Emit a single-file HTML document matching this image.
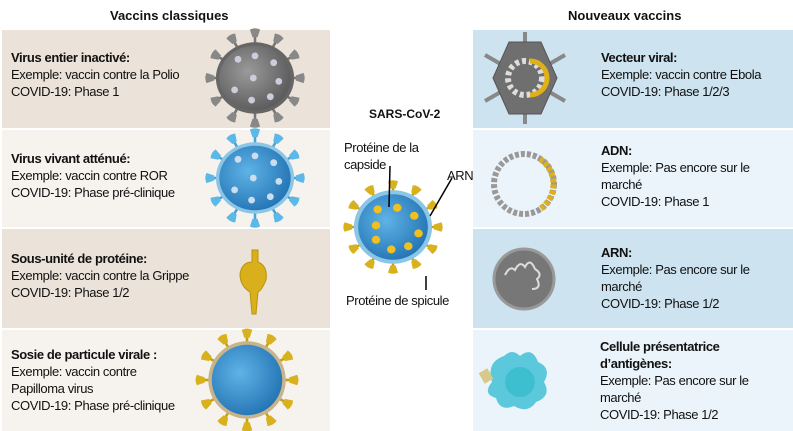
<!DOCTYPE html>
<html><head><meta charset="utf-8"><style>
html,body{margin:0;padding:0;background:#fff;width:793px;height:431px;overflow:hidden;font-family:"Liberation Sans",sans-serif;}
.p{position:absolute;}
.t{position:absolute;font-size:13px;line-height:17px;color:#111;letter-spacing:-0.4px;}
.t b{font-weight:bold;}
.h{position:absolute;font-size:13px;font-weight:bold;color:#111;}
</style></head><body>
<div class="p" style="left:2px;top:30px;width:328px;height:98px;background:#ebe2d9"></div>
<div class="p" style="left:2px;top:130px;width:328px;height:97px;background:#f6f3ef"></div>
<div class="p" style="left:2px;top:229px;width:328px;height:99px;background:#ebe2d9"></div>
<div class="p" style="left:2px;top:330px;width:328px;height:101px;background:#f6f3ef"></div>
<div class="p" style="left:473px;top:30px;width:320px;height:98px;background:#cde3ef"></div>
<div class="p" style="left:473px;top:130px;width:320px;height:97px;background:#eaf4fa"></div>
<div class="p" style="left:473px;top:229px;width:320px;height:99px;background:#cde3ef"></div>
<div class="p" style="left:473px;top:330px;width:320px;height:101px;background:#eaf4fa"></div>

<div class="h" style="left:110px;top:8px">Vaccins classiques</div>
<div class="h" style="left:568px;top:8px">Nouveaux vaccins</div>
<div class="h" style="left:369px;top:107px;font-size:12px">SARS-CoV-2</div>

<div class="t" style="left:11px;top:49px"><b>Virus entier inactivé:</b><br>Exemple: vaccin contre la Polio<br>COVID-19: Phase 1</div>
<div class="t" style="left:11px;top:150px"><b>Virus vivant atténué:</b><br>Exemple: vaccin contre ROR<br>COVID-19: Phase pré-clinique</div>
<div class="t" style="left:11px;top:250px"><b>Sous-unité de protéine:</b><br>Exemple: vaccin contre la Grippe<br>COVID-19: Phase 1/2</div>
<div class="t" style="left:11px;top:346px"><b>Sosie de particule virale :</b><br>Exemple: vaccin contre<br>Papilloma virus<br>COVID-19: Phase pré-clinique</div>

<div class="t" style="left:601px;top:49px"><b>Vecteur viral:</b><br>Exemple: vaccin contre Ebola<br>COVID-19: Phase 1/2/3</div>
<div class="t" style="left:601px;top:142px"><b>ADN:</b><br>Exemple: Pas encore sur le<br>marché<br>COVID-19: Phase 1</div>
<div class="t" style="left:601px;top:244px"><b>ARN:</b><br>Exemple: Pas encore sur le<br>marché<br>COVID-19: Phase 1/2</div>
<div class="t" style="left:600px;top:338px"><b>Cellule présentatrice<br>d’antigènes:</b><br>Exemple: Pas encore sur le<br>marché<br>COVID-19: Phase 1/2</div>

<div class="t" style="left:344px;top:139px">Protéine de la<br>capside</div>
<div class="t" style="left:447px;top:167px">ARN</div>
<div class="t" style="left:346px;top:292px">Protéine de spicule</div>

<svg class="p" style="left:0;top:0" width="793" height="431">
<defs>
<g id="sg"><rect x="-1.5" y="-50" width="3" height="10" fill="#777"/><path d="M-6,-57 Q0,-60 6,-57 L3,-48 L-3,-48Z" fill="#888"/></g>
<g id="sb"><rect x="-1.5" y="-50" width="3" height="10" fill="#4aa3d8"/><path d="M-6,-57 Q0,-60 6,-57 L3,-48 L-3,-48Z" fill="#5cb8e6"/></g>
<g id="sy"><rect x="-1.5" y="-50" width="3" height="10" fill="#c9a10a"/><path d="M-6,-57 Q0,-60 6,-57 L3,-48 L-3,-48Z" fill="#d8b21e"/></g>
<radialGradient id="gb" cx="0.4" cy="0.4" r="0.7"><stop offset="0" stop-color="#5fb3e6"/><stop offset="1" stop-color="#1f6fb0"/></radialGradient>
<radialGradient id="gg" cx="0.4" cy="0.4" r="0.7"><stop offset="0" stop-color="#9a9a9a"/><stop offset="1" stop-color="#555"/></radialGradient>
</defs>
<g transform="translate(255,78) scale(0.85)">
<use href="#sg" transform="rotate(0)"/><use href="#sg" transform="rotate(30)"/><use href="#sg" transform="rotate(60)"/><use href="#sg" transform="rotate(90)"/><use href="#sg" transform="rotate(120)"/><use href="#sg" transform="rotate(150)"/><use href="#sg" transform="rotate(180)"/><use href="#sg" transform="rotate(210)"/><use href="#sg" transform="rotate(240)"/><use href="#sg" transform="rotate(270)"/><use href="#sg" transform="rotate(300)"/><use href="#sg" transform="rotate(330)"/>
<ellipse rx="46" ry="42" fill="#666"/><ellipse rx="42" ry="38" fill="url(#gg)"/>
<circle cx="-20" cy="-22" r="4" fill="#ccd"/><circle cx="0" cy="-26" r="4" fill="#ccd"/><circle cx="22" cy="-18" r="4" fill="#ccd"/><circle cx="28" cy="4" r="4" fill="#ccd"/><circle cx="18" cy="22" r="4" fill="#ccd"/><circle cx="-4" cy="26" r="4" fill="#ccd"/><circle cx="-24" cy="14" r="4" fill="#ccd"/><circle cx="-2" cy="0" r="4" fill="#ccd"/>
</g>
<g transform="translate(255,178) scale(0.85)">
<use href="#sb" transform="rotate(0)"/><use href="#sb" transform="rotate(30)"/><use href="#sb" transform="rotate(60)"/><use href="#sb" transform="rotate(90)"/><use href="#sb" transform="rotate(120)"/><use href="#sb" transform="rotate(150)"/><use href="#sb" transform="rotate(180)"/><use href="#sb" transform="rotate(210)"/><use href="#sb" transform="rotate(240)"/><use href="#sb" transform="rotate(270)"/><use href="#sb" transform="rotate(300)"/><use href="#sb" transform="rotate(330)"/>
<ellipse rx="46" ry="42" fill="#8cc6e6"/><ellipse rx="42" ry="38" fill="url(#gb)"/>
<circle cx="-20" cy="-22" r="4" fill="#cde"/><circle cx="0" cy="-26" r="4" fill="#cde"/><circle cx="22" cy="-18" r="4" fill="#cde"/><circle cx="28" cy="4" r="4" fill="#cde"/><circle cx="18" cy="22" r="4" fill="#cde"/><circle cx="-4" cy="26" r="4" fill="#cde"/><circle cx="-24" cy="14" r="4" fill="#cde"/><circle cx="-2" cy="0" r="4" fill="#cde"/>
</g>
<path d="M252,250 L258,250 L258,262 Q268,266 266,280 Q262,290 258,292 L256,314 L252,314 L250,292 Q240,286 240,274 Q242,262 252,262Z" fill="#d9b01c" stroke="#b8930a"/>
<g transform="translate(247,380) scale(0.88)">
<use href="#sy" transform="rotate(0)"/><use href="#sy" transform="rotate(30)"/><use href="#sy" transform="rotate(60)"/><use href="#sy" transform="rotate(90)"/><use href="#sy" transform="rotate(120)"/><use href="#sy" transform="rotate(150)"/><use href="#sy" transform="rotate(180)"/><use href="#sy" transform="rotate(210)"/><use href="#sy" transform="rotate(240)"/><use href="#sy" transform="rotate(270)"/><use href="#sy" transform="rotate(300)"/><use href="#sy" transform="rotate(330)"/>
<circle r="44" fill="#c8b48a"/><circle r="40" fill="url(#gb)"/>
</g>
<g transform="translate(393,227) scale(0.85,0.8)">
<use href="#sy" transform="rotate(0)"/><use href="#sy" transform="rotate(30)"/><use href="#sy" transform="rotate(60)"/><use href="#sy" transform="rotate(90)"/><use href="#sy" transform="rotate(120)"/><use href="#sy" transform="rotate(150)"/><use href="#sy" transform="rotate(180)"/><use href="#sy" transform="rotate(210)"/><use href="#sy" transform="rotate(240)"/><use href="#sy" transform="rotate(270)"/><use href="#sy" transform="rotate(300)"/><use href="#sy" transform="rotate(330)"/>
<circle r="46" fill="#8cc6e6"/><circle r="41" fill="url(#gb)"/>
<circle cx="-18" cy="-22" r="5" fill="#f0c020"/><circle cx="5" cy="-24" r="5" fill="#f0c020"/><circle cx="25" cy="-14" r="5" fill="#f0c020"/><circle cx="30" cy="8" r="5" fill="#f0c020"/><circle cx="18" cy="24" r="5" fill="#f0c020"/><circle cx="-2" cy="28" r="5" fill="#f0c020"/><circle cx="-20" cy="16" r="5" fill="#f0c020"/><circle cx="-20" cy="-2" r="5" fill="#f0c020"/>
</g>
<line x1="390" y1="166" x2="389" y2="207" stroke="#000" stroke-width="1.5"/>
<line x1="452" y1="178" x2="430" y2="216" stroke="#000" stroke-width="1.5"/>
<line x1="426" y1="276" x2="426" y2="290" stroke="#000" stroke-width="1.5"/>
<g transform="translate(525,78)">
<g stroke="#888" stroke-width="4"><line x1="0" y1="0" x2="0" y2="-46"/><line x1="0" y1="0" x2="0" y2="46"/><line x1="0" y1="0" x2="-40" y2="-23"/><line x1="0" y1="0" x2="40" y2="-23"/><line x1="0" y1="0" x2="-40" y2="23"/><line x1="0" y1="0" x2="40" y2="23"/></g>
<polygon points="-16,-36 16,-36 32,0 16,36 -16,36 -32,0" fill="#6f6f6f" stroke="#555"/>
<circle r="17" fill="none" stroke="#ddd" stroke-width="6" stroke-dasharray="4 3"/>
<path d="M5,-17 A17,17 0 0 1 5,17" fill="none" stroke="#e0b018" stroke-width="5"/>
</g>
<circle cx="524" cy="184" r="30" fill="none" stroke="#999" stroke-width="6" stroke-dasharray="4 2"/>
<path d="M540,159 A30,30 0 0 1 540,209" fill="none" stroke="#e0b018" stroke-width="6" stroke-dasharray="4 2"/>
<circle cx="524" cy="279" r="30" fill="#777" stroke="#999" stroke-width="3"/>
<path d="M505,275 q5,-10 10,-5 q5,-10 10,-3 q5,-10 10,2 q8,5 2,10 q5,10 -5,10" fill="none" stroke="#ddd" stroke-width="2"/>
<path d="M492,382 Q486,362 504,356 Q512,348 520,356 Q532,346 538,362 Q552,368 544,382 Q552,396 536,402 Q528,414 514,406 Q500,412 496,398 Q482,394 492,382Z" fill="#5cc8dc"/>
<circle cx="520" cy="382" r="15" fill="#3dbfcf"/>
<rect x="481" y="370" width="10" height="12" fill="#d8c98a" transform="rotate(-30 486 376)"/>
</svg>
</body></html>
